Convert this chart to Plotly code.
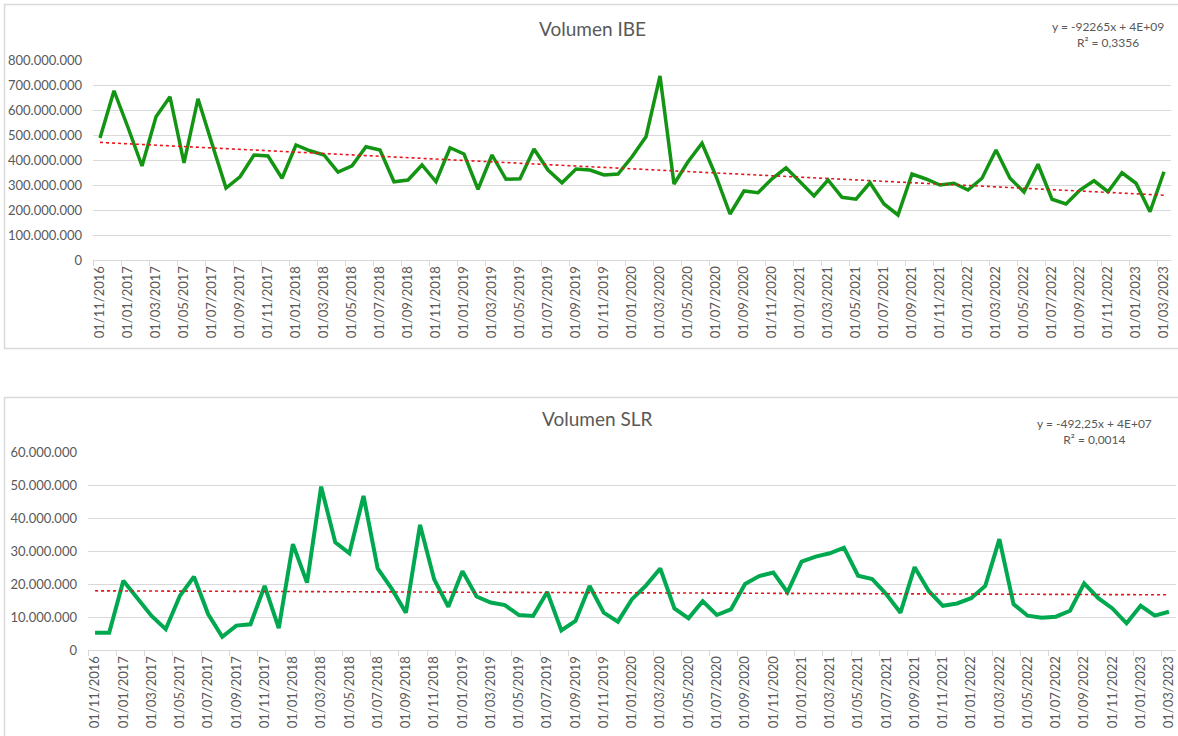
import numpy as np
import plotly.graph_objects as go

# ---- data ----
months = []
y0, m0 = 2016, 11
for k in range(77):
    mm = (m0 - 1 + k) % 12 + 1
    yy = y0 + (m0 - 1 + k) // 12
    months.append(f"01/{mm:02d}/{yy}")

ibe_volume = [488, 677, 530, 376, 573, 653, 388, 645, 465, 288,
              333, 420, 416, 327, 460, 437, 420, 352, 377, 453,
              440, 313, 320, 380, 313, 449, 424, 283, 420, 323,
              325, 444, 360, 309, 364, 360, 340, 344, 413, 493,
              736, 304, 393, 467, 335, 184, 276, 269, 325, 369,
              313, 256, 320, 251, 243, 309, 224, 180, 344, 324,
              300, 307, 280, 327, 440, 327, 272, 383, 243, 224,
              280, 317, 273, 349, 307, 193, 353]
ibe_volume = [v * 1e6 for v in ibe_volume]

slr_volume = [5.2, 5.2, 21.0, 15.7, 10.3, 6.3, 16.4, 22.2, 10.9, 4.0,
              7.4, 7.8, 19.4, 6.6, 32.1, 20.4, 49.5, 32.6, 29.3, 46.7,
              24.7, 18.5, 11.3, 37.9, 21.4, 13.1, 23.9, 16.2, 14.4, 13.6,
              10.6, 10.3, 17.6, 5.9, 8.8, 19.4, 11.3, 8.6, 15.4, 19.6,
              24.7, 12.6, 9.6, 14.8, 10.6, 12.3, 20.0, 22.4, 23.5, 17.5,
              26.8, 28.3, 29.3, 31.0, 22.5, 21.5, 16.9, 11.3, 25.1, 17.9,
              13.4, 14.1, 15.7, 19.4, 33.6, 13.9, 10.4, 9.8, 10.1, 11.9,
              20.2, 15.7, 12.6, 8.1, 13.4, 10.4, 11.6]
slr_volume = [v * 1e6 for v in slr_volume]

titles = ["Volumen IBE", "Volumen SLR"]
equations = ["y = -92265x + 4E+09<br>R² = 0,3356",
             "y = -492,25x + 4E+07<br>R² = 0,0014"]

W, H = 1178, 736
idx = np.arange(len(months))
label_idx = list(range(0, len(months), 2))
label_txt = [months[i] for i in label_idx]
boundary_ticks = [i - 0.5 for i in range(0, len(months), 2)]

def px(x):
    return x / W

def py(y):
    return 1 - y / H

FONT = "Lato"
GREY = "#595959"
GRID = "#D9D9D9"

fig = go.Figure()

def trend(vals):
    c = np.polyfit(idx, vals, 1)
    return np.polyval(c, idx)

# top
fig.add_trace(go.Scatter(x=idx, y=ibe_volume, mode="lines",
                         line=dict(color="#139513", width=3.5),
                         xaxis="x", yaxis="y", showlegend=False))
fig.add_trace(go.Scatter(x=idx, y=trend(np.array(ibe_volume)), mode="lines",
                         line=dict(color="#E8151B", width=1.6, dash="dot"),
                         xaxis="x", yaxis="y", showlegend=False))
# bottom
fig.add_trace(go.Scatter(x=idx, y=slr_volume, mode="lines",
                         line=dict(color="#00A84F", width=4),
                         xaxis="x2", yaxis="y2", showlegend=False))
fig.add_trace(go.Scatter(x=idx, y=trend(np.array(slr_volume)), mode="lines",
                         line=dict(color="#E8151B", width=1.6, dash="dot"),
                         xaxis="x2", yaxis="y2", showlegend=False))

def xaxis_cfg(domain):
    return dict(domain=domain, range=[-0.5, len(months) - 0.5],
                tickmode="array", tickvals=label_idx, ticktext=label_txt,
                tickangle=-90, ticks="", showgrid=False, zeroline=False,
                showline=True, linecolor=GRID, linewidth=1,
                tickfont=dict(family=FONT, size=13, color=GREY),
                minor=dict(tickmode="array", tickvals=boundary_ticks,
                           ticks="outside", ticklen=5, tickcolor=GRID,
                           tickwidth=1, showgrid=False),
                automargin=False, fixedrange=True)

def yaxis_cfg(domain, rng, dt, anchor):
    return dict(domain=domain, range=rng, dtick=dt, tick0=0,
                showgrid=True, gridcolor=GRID, gridwidth=1,
                zeroline=False, showline=False, ticks="",
                tickformat=",.0f", ticklabelstandoff=10,
                tickfont=dict(family=FONT, size=13, color=GREY),
                anchor=anchor, automargin=False, fixedrange=True)

fig.update_layout(
    width=W, height=H, autosize=False,
    margin=dict(l=0, r=0, t=0, b=0, pad=0, autoexpand=False),
    paper_bgcolor="white", plot_bgcolor="white",
    separators=",.",
    xaxis=dict(**xaxis_cfg([px(93), px(1171)]), anchor="y"),
    yaxis=yaxis_cfg([py(260), py(60)], [0, 800e6], 100e6, "x"),
    xaxis2=dict(**xaxis_cfg([px(88), px(1176)]), anchor="y2"),
    yaxis2=yaxis_cfg([py(650), py(452)], [0, 60e6], 10e6, "x2"),
)

# chart frames
fig.add_shape(type="rect", xref="paper", yref="paper",
              x0=px(4.5), x1=px(1185), y0=py(348.5), y1=py(4.5),
              line=dict(color=GRID, width=1.5), layer="below")
fig.add_shape(type="rect", xref="paper", yref="paper",
              x0=px(4.5), x1=px(1185), y0=py(745), y1=py(397.5),
              line=dict(color=GRID, width=1.5), layer="below")

# titles
fig.add_annotation(text=titles[0], x=px(592), y=py(28), xref="paper", yref="paper",
                   showarrow=False, xanchor="center", yanchor="middle",
                   font=dict(family=FONT, size=19, color=GREY))
fig.add_annotation(text=titles[1], x=px(597), y=py(419), xref="paper", yref="paper",
                   showarrow=False, xanchor="center", yanchor="middle",
                   font=dict(family=FONT, size=19, color=GREY))
# equations
fig.add_annotation(text=equations[0], x=px(1108), y=py(34), xref="paper", yref="paper",
                   showarrow=False, xanchor="center", yanchor="middle", align="center",
                   font=dict(family=FONT, size=12, color=GREY))
fig.add_annotation(text=equations[1], x=px(1094), y=py(431), xref="paper", yref="paper",
                   showarrow=False, xanchor="center", yanchor="middle", align="center",
                   font=dict(family=FONT, size=12, color=GREY))

fig.write_html(
    "out.html",
    config={"displayModeBar": False, "staticPlot": True},
    post_script=(
        "document.documentElement.style.margin='0';"
        "document.documentElement.style.overflow='hidden';"
        "document.body.style.margin='0';"
        "document.body.style.overflow='hidden';"
        "var d=document.getElementById('{plot_id}');"
        "d.style.position='fixed';d.style.top='0px';d.style.left='0px';"
    ),
)
